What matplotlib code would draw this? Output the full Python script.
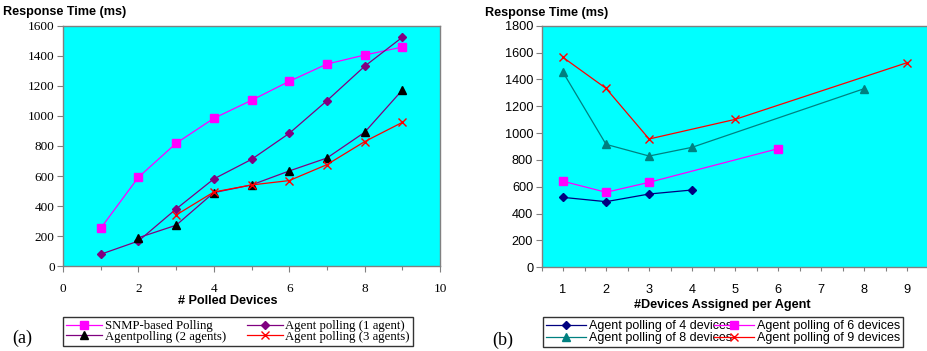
import matplotlib
matplotlib.use("Agg")
import matplotlib.pyplot as plt
from matplotlib.ticker import MultipleLocator

# ---- data: panel (a) ----
a_x = [1, 2, 3, 4, 5, 6, 7, 8, 9]
snmp = [253, 592, 818, 984, 1104, 1230, 1345, 1405, 1458]
agent1 = [80, 168, 381, 581, 711, 884, 1101, 1330, 1523]
agent2_x = [2, 3, 4, 5, 6, 7, 8, 9]
agent2 = [190, 273, 490, 541, 634, 720, 891, 1172]
agent3_x = [3, 4, 5, 6, 7, 8, 9]
agent3 = [341, 494, 541, 570, 676, 829, 957]

# ---- data: panel (b) ----
d4_x = [1, 2, 3, 4]
d4 = [521, 489, 546, 576]
d6_x = [1, 2, 3, 6]
d6 = [641, 559, 633, 884]
d8_x = [1, 2, 3, 4, 8]
d8 = [1453, 916, 829, 894, 1331]
d9_x = [1, 2, 3, 5, 9]
d9 = [1564, 1333, 956, 1102, 1525]
b_xticks = [1, 2, 3, 4, 5, 6, 7, 8, 9]

W, H = 927, 351
fig = plt.figure(figsize=(W / 100, H / 100), dpi=100)

CYAN = "#00FFFF"
GREY = "#808080"
serif = "Liberation Serif"
sans = "Liberation Sans"

def fx(px):
    return px / W

def fy(py):
    return 1 - py / H

# ---------- panel (a) ----------
axa = fig.add_axes([fx(63), fy(266.3), fx(440) - fx(63), fy(25.7) - fy(266.3)])
axa.set_facecolor(CYAN)
lw = 0.9
l_snmp, = axa.plot(a_x, snmp, color="#FF00FF", lw=lw, marker="s", ms=6,
                   mfc="#FF00FF", mec="#FF00FF")
l_a1, = axa.plot(a_x, agent1, color="#800080", lw=lw, marker="D", ms=4,
                 mfc="#800080", mec="#800080")
l_a2, = axa.plot(agent2_x, agent2, color="#800080", lw=lw, marker="^", ms=6,
                 mfc="black", mec="black")
l_a3, = axa.plot(agent3_x, agent3, color="#FF0000", lw=lw, marker="x", ms=6,
                 mew=1.0, mfc="#FF0000", mec="#FF0000")
axa.set_xlim(0, 10)
axa.set_ylim(0, 1600)
axa.xaxis.set_major_locator(MultipleLocator(2))
axa.xaxis.set_minor_locator(MultipleLocator(1))
axa.yaxis.set_major_locator(MultipleLocator(200))
axa.tick_params(axis="both", which="both", direction="out", color=GREY,
                labelsize=9.5, width=0.8)
axa.tick_params(axis="both", which="major", length=4)
axa.tick_params(axis="x", which="minor", length=3)
axa.tick_params(axis="x", which="major", pad=8)
axa.tick_params(axis="y", which="major", pad=2)
for lab in axa.get_xticklabels() + axa.get_yticklabels():
    lab.set_family(serif)
for s in axa.spines.values():
    s.set_color(GREY)
    s.set_linewidth(1.0)

fig.text(fx(3), fy(12), "Response Time (ms)", fontsize=9.1, fontweight="bold",
         family=sans, ha="left", va="center")
fig.text(fx(228), fy(301), "# Polled Devices", fontsize=9.1, fontweight="bold",
         family=sans, ha="center", va="center")
fig.text(fx(12), fy(338), "(a)", fontsize=13, family=serif, ha="left", va="center")

leg_a = fig.legend([l_snmp, l_a2, l_a1, l_a3],
                   ["SNMP-based Polling", "Agentpolling (2 agents)",
                    "Agent polling (1 agent)", "Agent polling (3 agents)"],
                   ncol=2, loc="lower left",
                   bbox_to_anchor=(fx(63), fy(346), fx(413) - fx(63), fy(313) - fy(346)),
                   mode="expand", prop={"family": serif, "size": 9.2},
                   frameon=True, fancybox=False, handlelength=2.8,
                   handletextpad=0.2, columnspacing=0.5, labelspacing=-0.1,
                   borderpad=0.25, borderaxespad=0)
leg_a.get_frame().set_edgecolor("black")
leg_a.get_frame().set_linewidth(1.0)

# ---------- panel (b) ----------
axb = fig.add_axes([fx(541.5), fy(267.3), fx(928.8) - fx(541.5), fy(25.7) - fy(267.3)])
axb.set_facecolor(CYAN)
l_4, = axb.plot(d4_x, d4, color="#000080", lw=lw, marker="D", ms=4,
                mfc="#000080", mec="#000080")
l_6, = axb.plot(d6_x, d6, color="#FF00FF", lw=lw, marker="s", ms=6,
                mfc="#FF00FF", mec="#FF00FF")
l_8, = axb.plot(d8_x, d8, color="#008080", lw=lw, marker="^", ms=6,
                mfc="#008080", mec="#008080")
l_9, = axb.plot(d9_x, d9, color="#FF0000", lw=lw, marker="x", ms=6, mew=1.0,
                mfc="#FF0000", mec="#FF0000")
axb.set_xlim(0.5, 9.5)
axb.set_ylim(0, 1800)
axb.set_xticks(b_xticks)
axb.set_xticklabels([str(v) for v in b_xticks])
axb.xaxis.set_minor_locator(MultipleLocator(0.5))
axb.yaxis.set_major_locator(MultipleLocator(200))
axb.tick_params(axis="both", which="both", direction="out", color=GREY,
                labelsize=9.2, width=0.8)
axb.tick_params(axis="x", which="major", length=3, pad=9)
axb.tick_params(axis="x", which="minor", length=3)
axb.tick_params(axis="y", which="major", length=4, pad=2)
for lab in axb.get_xticklabels() + axb.get_yticklabels():
    lab.set_family(sans)
for s in axb.spines.values():
    s.set_color(GREY)
    s.set_linewidth(1.0)

fig.text(fx(485), fy(13), "Response Time (ms)", fontsize=9.1, fontweight="bold",
         family=sans, ha="left", va="center")
fig.text(fx(722), fy(305), "#Devices Assigned per Agent", fontsize=9.1,
         fontweight="bold", family=sans, ha="center", va="center")
fig.text(fx(492), fy(340), "(b)", fontsize=13, family=serif, ha="left", va="center")

leg_b = fig.legend([l_4, l_8, l_6, l_9],
                   ["Agent polling of 4 devices", "Agent polling of 8 devices",
                    "Agent polling of 6 devices", "Agent polling of 9 devices"],
                   ncol=2, loc="lower left",
                   bbox_to_anchor=(fx(543), fy(347), fx(903) - fx(543), fy(312) - fy(347)),
                   mode="expand", prop={"family": sans, "size": 9.0},
                   frameon=True, fancybox=False, handlelength=3.2,
                   handletextpad=0.2, columnspacing=-0.3, labelspacing=-0.05,
                   borderpad=0.25, borderaxespad=0)
leg_b.get_frame().set_edgecolor("black")
leg_b.get_frame().set_linewidth(1.0)

fig.savefig("out.png", dpi=100, facecolor="white")
